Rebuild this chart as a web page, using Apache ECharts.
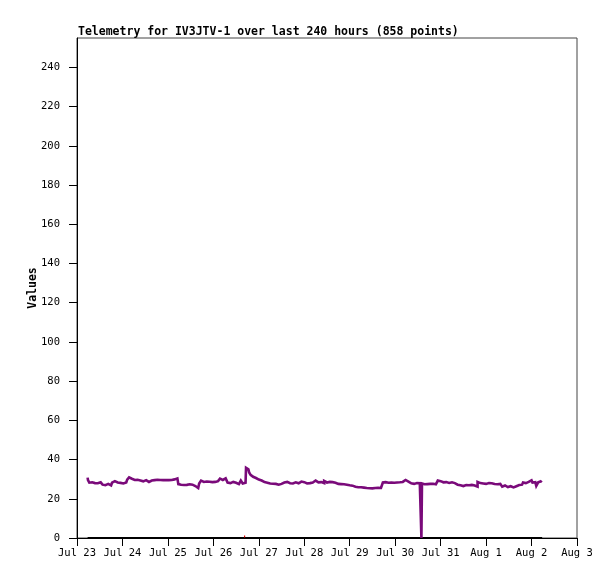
<!DOCTYPE html>
<html>
<head>
<meta charset="utf-8">
<script src="https://cdn.jsdelivr.net/npm/echarts@6/dist/echarts.min.js"></script>
<style>
html,body{margin:0;padding:0;background:#fff;}
#c{width:615px;height:579px;}
</style>
</head>
<body>
<div id="c"></div>
<script>
// x values are hours since Jul 23 00:00
const dayLabels = ["Jul 23","Jul 24","Jul 25","Jul 26","Jul 27","Jul 28","Jul 29","Jul 30","Jul 31","Aug 1","Aug 2","Aug 3"];
const yTicks = [0,20,40,60,80,100,120,140,160,180,200,220,240];

// purple telemetry channel: [hour, value]
const purplePoints = [
  [5.6,30.8],[6,29.5],[7,28.2],[8,28.4],[9,28.0],[10,28.3],[11,27.9],[12,28.4],[13,28.0],
  [14,27.2],[15,26.9],[16,27.6],[17,27.3],[18,26.8],
  [19,28.2],[20,29.0],[21,28.3],[22,28.7],[23,28.1],[24,27.8],[25,27.0],[26,28.3],
  [27,29.8],[28,30.9],[29,30.2],
  [30,29.6],[31,29.4],[32,29.7],[33,29.3],[34,28.7],[35,28.9],[36,29.5],[37,29.4],[38,28.6],[39,29.3],
  [40,29.6],[41,29.5],[42,29.7],[43,29.4],[44,29.6],[45,29.5],[46,29.8],[47,29.6],[48,29.5],[49,29.8],
  [50,29.6],[51,29.9],[52,29.5],[53,30.4],
  [54,27.5],[55,27.2],[56,27.0],[57,27.3],[58,27.1],[59,27.4],[60,26.8],[61,27.2],[62,26.5],
  [63,25.7],[64,25.5],[65,27.8],
  [66,29.3],[67,28.6],[68,28.8],[69,28.4],[70,28.7],[71,28.5],[72,28.9],[73,28.6],[74,29.0],
  [75,29.8],[76,30.3],[77,29.6],[78,30.4],[79,29.5],
  [80,28.3],[81,28.0],[82,28.6],[83,27.8],[84,28.2],[85,27.5],[86,27.8],
  [87,29.3],[88,27.8],[89,28.2],[89.5,35.8],[90.5,35.0],[91.3,33.4],[92,32.2],[93,31.2],[94,30.6],
  [95,30.3],[96,29.8],[97,29.3],[98,29.0],[99,28.5],[100,28.2],[101,27.9],[102,27.8],[103,27.7],
  [104,27.6],[105,27.6],[106,27.2],[107,26.9],[108,27.6],
  [109,28.3],[110,27.8],[111,28.6],[112,27.9],[113,28.2],[114,27.8],[115,28.4],
  [116,28.6],[117,27.9],[118,28.8],[119,28.0],[120,28.5],[121,27.8],[122,27.2],[123,28.0],
  [124,28.3],[125,28.0],[126,29.3],[127,28.4],[128,28.2],[129,28.5],[130,28.0],[131,29.1],[132,28.3],
  [133,28.6],[134,28.1],[135,28.5],[136,28.2],[137,28.4],[138,27.6],
  [139,27.5],[140,27.3],[141,27.4],[142,27.2],[143,27.0],[144,26.9],[145,26.7],[146,26.5],
  [147,26.1],[148,25.9],[149,25.8],[150,25.9],[151,25.7],[152,25.6],
  [153,25.5],[154,25.4],[155,25.6],[156,25.3],[157,25.5],[158,25.4],[159,25.6],[160,25.5],
  [161,26.5],[162,28.3],[163,28.5],[164,28.2],[165,28.4],[166,28.3],
  [167,28.2],[168,28.5],[169,28.3],[170,28.4],[171,28.2],[172,28.6],[173,29.6],[174,29.0],[175,28.8],
  [176,27.9],[177,28.2],[178,27.6],[179,28.0],[180,27.7],[181,27.9],[181.7,27.6],[182,0],[182.3,27.8],
  [183,27.4],[184,27.8],[185,27.5],[186,27.6],[187,27.2],[188,27.7],[189,27.4],[190,27.8],
  [191,29.3],[192,29.0],
  [193,28.4],[194,28.2],[195,28.5],[196,28.1],[197,28.3],[198,28.4],[199,28.0],[200,28.2],
  [201,27.2],[202,26.9],[203,27.3],[204,26.5],[205,27.0],[206,26.3],[207,26.9],[208,27.1],[209,26.4],
  [210,26.8],[211,26.2],[212,28.6],[213,28.0],[214,27.8],
  [215,27.9],[216,27.6],[217,28.0],[218,27.7],[219,27.9],[220,27.5],[221,27.8],[222,27.4],[223,27.6],
  [224,26.7],[225,26.2],[226,26.8],[227,26.0],[228,26.6],[229,26.4],[230,25.8],[231,26.7],[232,26.4],
  [233,27.0],[234,27.4],[235,27.2],
  [236,28.3],[237,28.0],[238,28.6],[239,28.2],[240,29.4],[241,28.3],[242,28.5],[243,26.6],[244,28.4],
  [245,28.9],[245.6,29.3]
];

// black channel (flat at zero)
const blackPoints = [[5.6,0],[245.6,0]];

// red channel (single short mark)
const redPoints = [[88.2,0.8],[88.8,0.8]];

const chart = echarts.init(document.getElementById('c'), null, {renderer:'canvas'});
const mono = '"DejaVu Sans Mono", "Liberation Mono", monospace';
chart.setOption({
  animation: false,
  backgroundColor: '#ffffff',
  title: {
    text: 'Telemetry for IV3JTV-1 over last 240 hours (858 points)',
    left: 73, top: 21,
    textStyle: {fontFamily: mono, fontSize: 11.5, fontWeight: 'bold', color: '#000'}
  },
  grid: {left: 77, right: 38, top: 38, bottom: 41, show: true, borderColor: '#444', borderWidth: 1, backgroundColor: 'transparent'},
  xAxis: {
    type: 'value', min: 0, max: 264, interval: 24,
    axisLine: {show: true, onZero: false, lineStyle: {color: '#000', width: 1}},
    axisTick: {show: true, inside: false, length: 8, lineStyle: {color: '#000'}},
    axisLabel: {
      margin: 10, color: '#000', fontFamily: mono, fontSize: 10.5,
      formatter: v => dayLabels[Math.round(v/24)] || ''
    },
    splitLine: {show: false}
  },
  yAxis: {
    type: 'value', min: 0, max: 255,
    name: 'Values', nameLocation: 'middle', nameGap: 38, nameRotate: 90, nameMoveOverlap: false,
    nameTextStyle: {fontFamily: mono, fontSize: 11.5, fontWeight: 'bold', color: '#000'},
    axisLine: {show: true, lineStyle: {color: '#000', width: 1}},
    axisTick: {show: true, inside: false, length: 8, customValues: yTicks, lineStyle: {color: '#000'}},
    axisLabel: {margin: 17, color: '#000', fontFamily: mono, fontSize: 10.5, customValues: yTicks},
    splitLine: {show: false}
  },
  series: [
    {type: 'line', data: blackPoints, symbol: 'none', lineStyle: {color: '#000', width: 2}, z: 2},
    {type: 'line', data: redPoints, symbol: 'none', lineStyle: {color: '#e00000', width: 2}, z: 3},
    {type: 'line', data: purplePoints, step: 'middle', symbol: 'none', lineStyle: {color: '#7a0a7a', width: 2.6, join: 'miter'}, z: 4}
  ]
});
</script>
</body>
</html>
